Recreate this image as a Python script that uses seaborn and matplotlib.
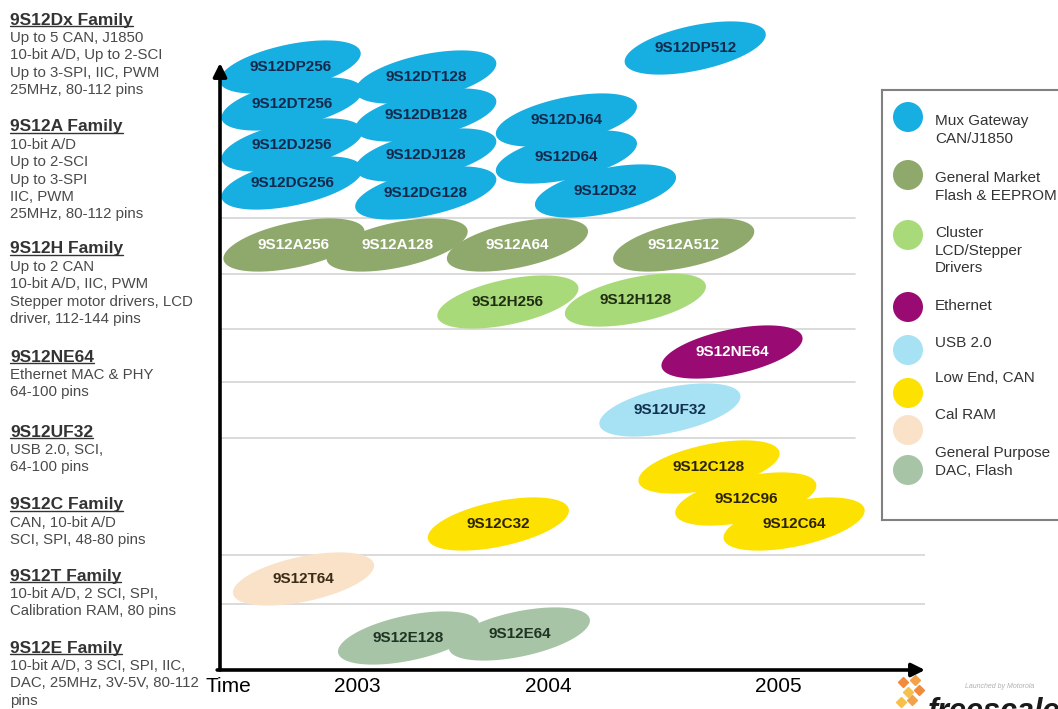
import numpy as np
import pandas as pd
import matplotlib
matplotlib.use('Agg')
import matplotlib.pyplot as plt
from matplotlib.path import Path
from matplotlib import font_manager
import seaborn as sns

# product families (legend order), their colours and label colours
group_names = ['Mux Gateway', 'General Market', 'Cluster', 'Ethernet',
               'USB 2.0', 'Low End, CAN', 'Cal RAM', 'General Purpose']
group_sub = ['CAN/J1850', 'Flash & EEPROM', 'LCD/Stepper\nDrivers', '',
             '', '', '', 'DAC, Flash']
group_colors = ['#17AEE2', '#8FA86B', '#A9DA7A', '#990A72',
                '#A6E2F4', '#FDE100', '#FAE2C8', '#A7C4A6']
text_colors = ['#13294B', '#FFFFFF', '#1F2E12', '#FFFFFF',
               '#12304F', '#2B2300', '#3B2C18', '#1F3322']

# every part on the roadmap: family, launch time (years), vertical slot
parts = ['9S12DP256', '9S12DT256', '9S12DJ256', '9S12DG256',
         '9S12DT128', '9S12DB128', '9S12DJ128', '9S12DG128',
         '9S12DJ64', '9S12D64', '9S12D32', '9S12DP512',
         '9S12A256', '9S12A128', '9S12A64', '9S12A512',
         '9S12H256', '9S12H128', '9S12NE64', '9S12UF32',
         '9S12C32', '9S12C128', '9S12C96', '9S12C64',
         '9S12T64', '9S12E128', '9S12E64']
groups = (['Mux Gateway'] * 12 + ['General Market'] * 4 + ['Cluster'] * 2
          + ['Ethernet', 'USB 2.0'] + ['Low End, CAN'] * 4 + ['Cal RAM']
          + ['General Purpose'] * 2)
launch = [2002.65, 2002.66, 2002.66, 2002.66,
          2003.36, 2003.36, 2003.36, 2003.36,
          2004.08, 2004.08, 2004.25, 2004.64,
          2002.67, 2003.21, 2003.84, 2004.59,
          2003.79, 2004.38, 2004.80, 2004.53,
          2003.74, 2004.70, 2004.86, 2005.07,
          2002.72, 2003.27, 2003.85]
slot = [60.3, 56.6, 52.5, 48.7,
        59.3, 55.5, 51.5, 47.7,
        55.0, 51.3, 47.9, 62.2,
        42.5, 42.5, 42.5, 42.5,
        36.8, 37.0, 31.8, 26.0,
        14.6, 20.3, 17.1, 14.6,
        9.1, 3.2, 3.6]

lane_breaks = [45.2, 39.6, 34.1, 28.8, 23.2, 11.5, 6.6]
year_labels = ['2003', '2004', '2005']
year_ticks = [2003, 2004, 2005]

family_titles = ['9S12Dx Family', '9S12A Family', '9S12H Family', '9S12NE64',
                 '9S12UF32', '9S12C Family', '9S12T Family', '9S12E Family']
family_notes = ['Up to 5 CAN, J1850\n10-bit A/D, Up to 2-SCI\nUp to 3-SPI, IIC, PWM\n25MHz, 80-112 pins',
                '10-bit A/D\nUp to 2-SCI\nUp to 3-SPI\nIIC, PWM\n25MHz, 80-112 pins',
                'Up to 2 CAN\n10-bit A/D, IIC, PWM\nStepper motor drivers, LCD\ndriver, 112-144 pins',
                'Ethernet MAC & PHY\n64-100 pins',
                'USB 2.0, SCI,\n64-100 pins',
                'CAN, 10-bit A/D\nSCI, SPI, 48-80 pins',
                '10-bit A/D, 2 SCI, SPI,\nCalibration RAM, 80 pins',
                '10-bit A/D, 3 SCI, SPI, IIC,\nDAC, 25MHz, 3V-5V, 80-112\npins']

df = pd.DataFrame({'part': parts, 'group': groups, 'launch': launch, 'slot': slot})
palette = dict(zip(group_names, group_colors))
label_color = dict(zip(group_names, text_colors))

sns.set_style('white')
plt.rcParams['font.family'] = ['Liberation Sans', 'DejaVu Sans']
installed = {f.name for f in font_manager.fontManager.ttflist}
if 'Liberation Sans Narrow' in installed:
    big_font, big_size = ['Liberation Sans Narrow', 'DejaVu Sans'], 17
else:
    big_font, big_size = ['Liberation Sans', 'DejaVu Sans'], 15

W, H, DPI = 1058, 709, 100
fig = plt.figure(figsize=(W / DPI, H / DPI), dpi=DPI)


def fx(px):
    return px / W


def fy(py):
    return 1 - py / H


# main timeline axes (pixel frame 220..925 x 63..670)
ax = fig.add_axes([fx(220), fy(670), fx(925) - fx(220), fy(63) - fy(670)])

# the years are not evenly spaced on the original slide
year_anchor = [2000, 2003, 2004, 2005, 2008]
px_anchor = [357 - 3 * 191, 357, 548, 778, 778 + 3 * 230]
fwd = lambda v: np.interp(v, year_anchor, px_anchor)
inv = lambda p: np.interp(p, px_anchor, year_anchor)
ax.set_xscale('function', functions=(fwd, inv))
ax.set_xlim(inv(220), inv(925))
ax.set_ylim(0, 60.7)

for i, y in enumerate(lane_breaks):
    ax.axhline(y, xmax=0.9 if i < 5 else 1.0, color='#d4d4d4', lw=1.2, zorder=1)

# tilted ellipse marker
t = np.linspace(0, 2 * np.pi, 120)
a, b, tilt = 72, 22.5, np.deg2rad(12)
ex, ey = a * np.cos(t), b * np.sin(t)
verts = np.column_stack([ex * np.cos(tilt) - ey * np.sin(tilt),
                         ex * np.sin(tilt) + ey * np.cos(tilt)])
blob = Path(verts, closed=True)
blob_size = (2 * np.abs(verts).max() * 72 / DPI) ** 2

sns.scatterplot(data=df, x='launch', y='slot', hue='group', palette=palette,
                marker=blob, s=blob_size, linewidth=0, legend=False,
                ax=ax, zorder=3, clip_on=False)

for _, r in df.iterrows():
    ax.text(r['launch'], r['slot'], r['part'], ha='center', va='center',
            fontsize=11, fontweight='bold', color=label_color[r['group']], zorder=4)

for s in ax.spines.values():
    s.set_visible(False)
arrow = dict(arrowstyle='-|>', color='black', lw=2.6, mutation_scale=20,
             shrinkA=0, shrinkB=0)
ax.annotate('', xy=(1, 0), xytext=(-0.004, 0), xycoords='axes fraction',
            arrowprops=arrow, zorder=5)
ax.annotate('', xy=(0, 1), xytext=(0, 0), xycoords='axes fraction',
            arrowprops=arrow, zorder=5)

ax.set_xticks(year_ticks, labels=year_labels)
ax.set_yticks([])
ax.set_xlabel('')
ax.set_ylabel('')
ax.tick_params(axis='x', length=0, pad=5, labelsize=big_size, labelcolor='black')
for lbl in ax.get_xticklabels():
    lbl.set_family(big_font)
fig.text(fx(228), fy(686), 'Time', ha='center', va='center',
         fontsize=big_size, family=big_font, color='black')

# family descriptions on the left
title_px = [20, 127, 249, 357, 432, 505, 576, 648]
heads = []
for title, note, ty in zip(family_titles, family_notes, title_px):
    heads.append(fig.text(fx(10), fy(ty), title, fontsize=12.5, fontweight='bold',
                          color='#333333', va='center'))
    fig.text(fx(10), fy(ty + 11), note, fontsize=10.8, color='#4a4a4a',
             va='top', linespacing=1.3)

# legend box
lax = fig.add_axes([fx(882), fy(520), fx(1140) - fx(882), fy(90) - fy(520)])
lax.set_xlim(882, 1140)
lax.set_ylim(520, 90)
lax.set_xticks([])
lax.set_yticks([])
for s in lax.spines.values():
    s.set_color('#808080')
    s.set_linewidth(1.5)
dot_y = [117, 175, 235, 307, 350, 393, 430, 470]
text_y = [123, 180, 235, 308, 345, 380, 417, 455]
sns.scatterplot(x=[908] * len(group_names), y=dot_y, hue=group_names,
                palette=palette, s=(30 * 72 / DPI) ** 2, linewidth=0,
                legend=False, ax=lax, clip_on=False)
for name, sub, ty in zip(group_names, group_sub, text_y):
    label = name + ('\n' + sub if sub else '')
    lax.text(935, ty - 9, label, fontsize=11, color='#333333', va='top',
             linespacing=1.32)

# freescale logo corner
tiles_x = [903, 915, 908, 919, 901, 912]
tiles_y = [682, 680, 692, 690, 702, 700]
tiles_c = ['#F08A3C', '#F3A24A', '#F6C04A', '#F08A3C', '#F6C04A', '#F3A24A']
for x, y, c in zip(tiles_x, tiles_y, tiles_c):
    fig.add_artist(plt.Line2D([fx(x)], [fy(y)], marker='D', ms=5, color=c, lw=0))
fig.text(fx(928), fy(697), 'freescale', fontsize=22, fontweight='bold',
         style='italic', color='#1a1a1a', va='top')
fig.text(fx(965), fy(686), 'Launched by Motorola', fontsize=5, color='#b0b0b0',
         style='italic', va='center')

# underline the family titles
fig.canvas.draw()
rend = fig.canvas.get_renderer()
for h in heads:
    bb = h.get_window_extent(rend)
    yy = (bb.y0 + 1.5) / H
    fig.add_artist(plt.Line2D([bb.x0 / W, bb.x1 / W], [yy, yy], color='#333333', lw=1.0))

fig.savefig('out.png', dpi=DPI)
